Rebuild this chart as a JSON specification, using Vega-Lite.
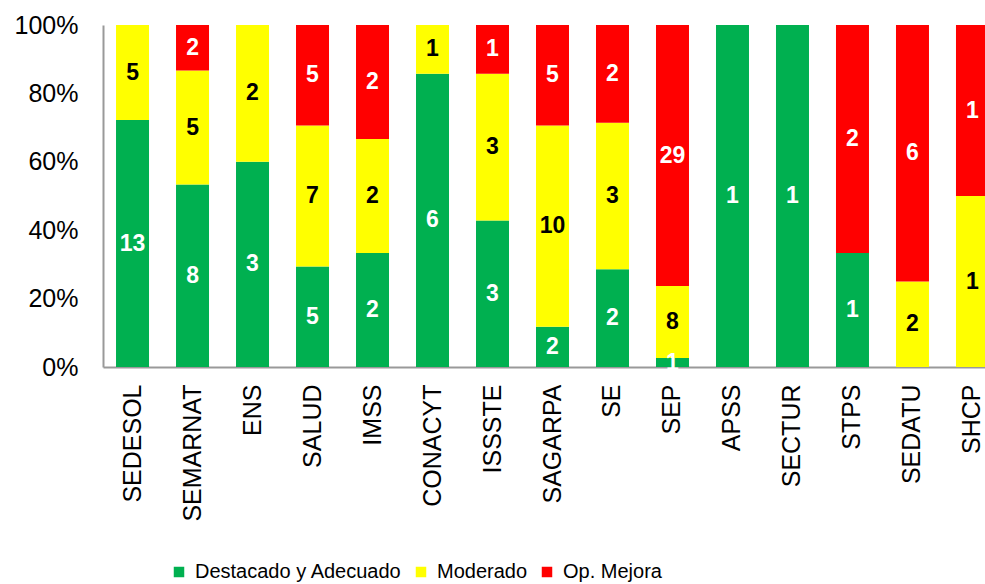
{
  "$schema": "https://vega.github.io/schema/vega-lite/v6.json",
  "width": 882,
  "height": 342,
  "autosize": {"type": "none"},
  "padding": {"left": 103, "top": 25, "right": 0, "bottom": 217},
  "background": "white",
  "config": {
    "view": {"stroke": null},
    "font": "Liberation Sans"
  },
  "data": {
    "values": [
      {"dep": "SEDESOL", "cat": "Destacado y Adecuado", "n": 13},
      {"dep": "SEDESOL", "cat": "Moderado", "n": 5},
      {"dep": "SEMARNAT", "cat": "Destacado y Adecuado", "n": 8},
      {"dep": "SEMARNAT", "cat": "Moderado", "n": 5},
      {"dep": "SEMARNAT", "cat": "Op. Mejora", "n": 2},
      {"dep": "ENS", "cat": "Destacado y Adecuado", "n": 3},
      {"dep": "ENS", "cat": "Moderado", "n": 2},
      {"dep": "SALUD", "cat": "Destacado y Adecuado", "n": 5},
      {"dep": "SALUD", "cat": "Moderado", "n": 7},
      {"dep": "SALUD", "cat": "Op. Mejora", "n": 5},
      {"dep": "IMSS", "cat": "Destacado y Adecuado", "n": 2},
      {"dep": "IMSS", "cat": "Moderado", "n": 2},
      {"dep": "IMSS", "cat": "Op. Mejora", "n": 2},
      {"dep": "CONACYT", "cat": "Destacado y Adecuado", "n": 6},
      {"dep": "CONACYT", "cat": "Moderado", "n": 1},
      {"dep": "ISSSTE", "cat": "Destacado y Adecuado", "n": 3},
      {"dep": "ISSSTE", "cat": "Moderado", "n": 3},
      {"dep": "ISSSTE", "cat": "Op. Mejora", "n": 1},
      {"dep": "SAGARPA", "cat": "Destacado y Adecuado", "n": 2},
      {"dep": "SAGARPA", "cat": "Moderado", "n": 10},
      {"dep": "SAGARPA", "cat": "Op. Mejora", "n": 5},
      {"dep": "SE", "cat": "Destacado y Adecuado", "n": 2},
      {"dep": "SE", "cat": "Moderado", "n": 3},
      {"dep": "SE", "cat": "Op. Mejora", "n": 2},
      {"dep": "SEP", "cat": "Destacado y Adecuado", "n": 1},
      {"dep": "SEP", "cat": "Moderado", "n": 8},
      {"dep": "SEP", "cat": "Op. Mejora", "n": 29},
      {"dep": "APSS", "cat": "Destacado y Adecuado", "n": 1},
      {"dep": "SECTUR", "cat": "Destacado y Adecuado", "n": 1},
      {"dep": "STPS", "cat": "Destacado y Adecuado", "n": 1},
      {"dep": "STPS", "cat": "Op. Mejora", "n": 2},
      {"dep": "SEDATU", "cat": "Moderado", "n": 2},
      {"dep": "SEDATU", "cat": "Op. Mejora", "n": 6},
      {"dep": "SHCP", "cat": "Moderado", "n": 1},
      {"dep": "SHCP", "cat": "Op. Mejora", "n": 1}
    ]
  },
  "transform": [
    {"stack": "n", "groupby": ["dep"], "offset": "normalize", "sort": [{"field": "cat", "order": "ascending"}], "as": ["y0", "y1"]},
    {"calculate": "(datum.y0 + datum.y1) / 2", "as": "ymid"}
  ],
  "encoding": {
    "x": {
      "field": "dep",
      "type": "nominal",
      "sort": ["SEDESOL", "SEMARNAT", "ENS", "SALUD", "IMSS", "CONACYT", "ISSSTE", "SAGARPA", "SE", "SEP", "APSS", "SECTUR", "STPS", "SEDATU", "SHCP"],
      "scale": {"range": [0, 899], "paddingInner": 0.45, "paddingOuter": 0.217},
      "axis": {
        "title": null,
        "labelAngle": -90,
        "labelAlign": "right",
        "labelBaseline": "middle",
        "labelFontSize": 25,
        "labelColor": "#000000",
        "labelPadding": 17,
        "labelLimit": 0,
        "ticks": false,
        "domainColor": "#999999",
        "domainWidth": 2,
        "labelFont": "Liberation Sans"
      }
    }
  },
  "layer": [
    {
      "mark": {"type": "bar"},
      "encoding": {
        "y": {
          "field": "y0",
          "type": "quantitative",
          "scale": {"domain": [0, 1], "nice": false},
          "axis": {
            "title": null,
            "values": [0, 0.2, 0.4, 0.6, 0.8, 1],
            "format": ".0%",
            "grid": false,
            "ticks": false,
            "labelFontSize": 25,
            "labelColor": "#000000",
            "labelPadding": 25,
            "domainColor": "#999999",
            "domainWidth": 2,
            "labelFont": "Liberation Sans"
          }
        },
        "y2": {"field": "y1"},
        "color": {
          "field": "cat",
          "type": "nominal",
          "scale": {"domain": ["Destacado y Adecuado", "Moderado", "Op. Mejora"], "range": ["#00B050", "#FFFF00", "#FF0000"]},
          "legend": {
            "title": null,
            "orient": "none",
            "direction": "horizontal",
            "legendX": 66,
            "legendY": 537,
            "symbolType": "square",
            "symbolSize": 110,
            "symbolStrokeWidth": 0,
            "labelFontSize": 20,
            "labelColor": "#000000",
            "labelFont": "Liberation Sans",
            "labelLimit": 0,
            "columnPadding": 9,
            "labelOffset": 6
          }
        }
      }
    },
    {
      "mark": {"type": "text", "fontSize": 23, "fontWeight": "bold", "font": "Liberation Sans", "baseline": "middle"},
      "encoding": {
        "y": {"field": "ymid", "type": "quantitative"},
        "text": {"field": "n", "type": "quantitative"},
        "color": {"condition": {"test": "datum.cat === 'Moderado'", "value": "#000000"}, "value": "#FFFFFF"}
      }
    }
  ]
}
